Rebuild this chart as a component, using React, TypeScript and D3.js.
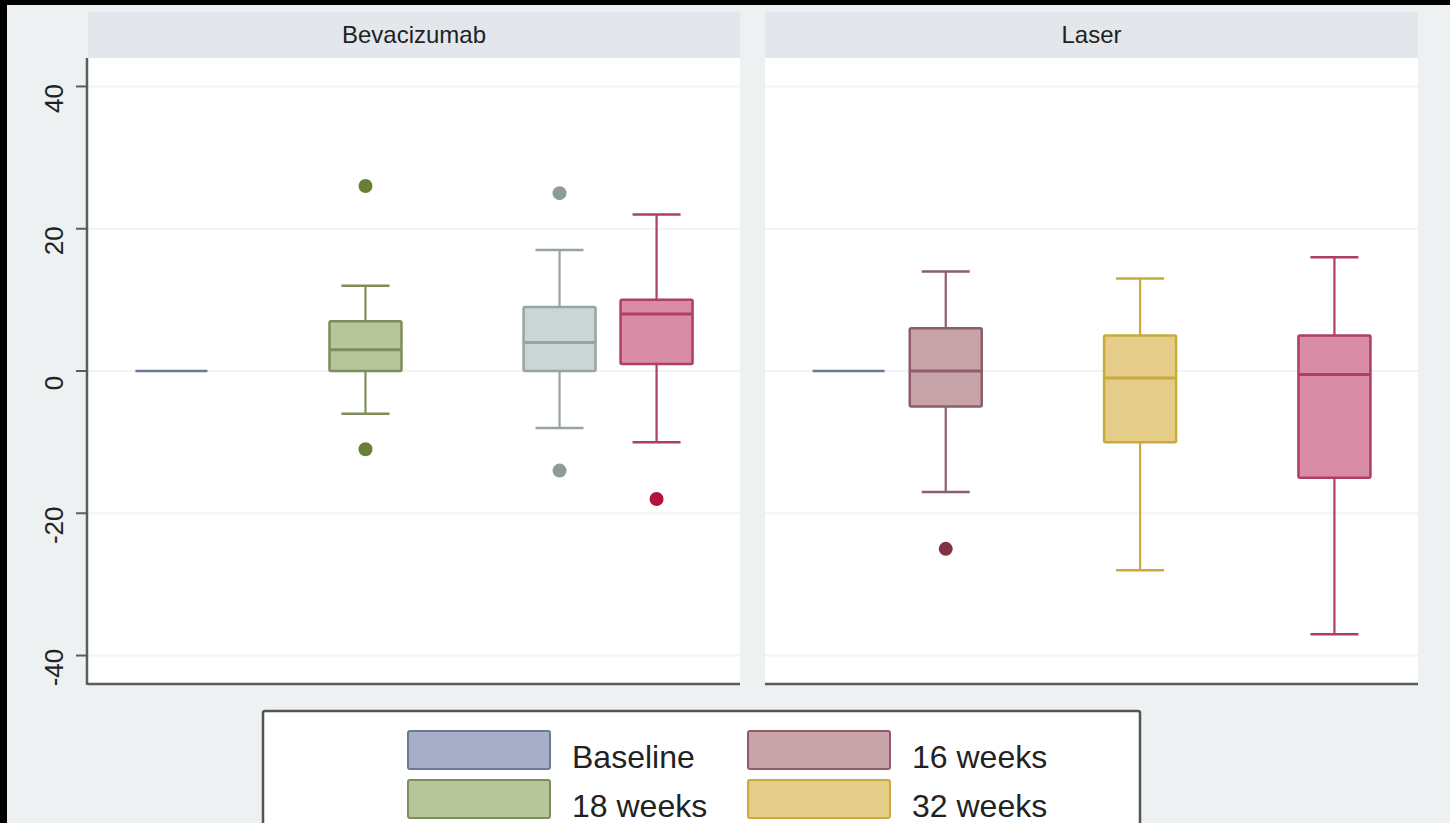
import React from "react";
import * as d3 from "d3";

// ---- data ----
const panels = ["Bevacizumab", "Laser"];
const categories = ["Baseline", "16 weeks", "18 weeks", "32 weeks", "Group 5", "Group 6"];
const legendItems = ["Baseline", "16 weeks", "18 weeks", "32 weeks"];
const yTicks = [40, 20, 0, -20, -40];

// each box: [panel, category, whiskerLow, q1, median, q3, whiskerHigh]
const boxPanel = ["Bevacizumab", "Bevacizumab", "Bevacizumab", "Bevacizumab", "Laser", "Laser", "Laser", "Laser"];
const boxCategory = ["Baseline", "18 weeks", "Group 5", "Group 6", "Baseline", "16 weeks", "32 weeks", "Group 6"];
const boxLow = [0, -6, -8, -10, 0, -17, -28, -37];
const boxQ1 = [0, 0, 0, 1, 0, -5, -10, -15];
const boxMedian = [0, 3, 4, 8, 0, 0, -1, -0.5];
const boxQ3 = [0, 7, 9, 10, 0, 6, 5, 5];
const boxHigh = [0, 12, 17, 22, 0, 14, 13, 16];
const boxOutliers = [[], [26, -11], [25, -14], [-18], [], [-25], [], []];

// styling per category
const fills = ["#a7afc6", "#c7a3aa", "#b7c59b", "#e5cc88", "#cad5d5", "#d98ca5"];
const strokes = ["#6c7898", "#8d5e69", "#7d8d5c", "#c9aa3a", "#98a4a4", "#ad3e64"];
const dots = ["#6c7898", "#7f3444", "#6a7f36", "#c9aa3a", "#8c9c98", "#b3123e"];

export default function App() {
  const W = 1450, H = 823;
  const plotTop = 58, plotBottom = 684;
  const panelX = [[88, 740], [765, 1418]];
  const y = d3.scaleLinear().domain([-44, 44]).range([plotBottom, plotTop]);
  const font = "'Liberation Sans', Arial, Helvetica, sans-serif";
  const boxW = 72, capW = 48;

  return (
    <svg width={W} height={H} style={{ position: "absolute", left: 0, top: 0, display: "block" }}>
      <rect x={0} y={0} width={W} height={H} fill="#eef1f2" />
      <rect x={0} y={0} width={W} height={5} fill="#000" />
      <rect x={0} y={0} width={7} height={H} fill="#000" />
      {panels.map((p, pi) => {
        const [x0, x1] = panelX[pi];
        const x = d3.scalePoint<string>().domain(categories).range([x0, x1]).padding(0.86);
        return (
          <g key={p}>
            <rect x={x0} y={12} width={x1 - x0} height={plotTop - 12} fill="#e3e7ec" />
            <text x={(x0 + x1) / 2} y={43} textAnchor="middle" fontFamily={font} fontSize={24} fill="#222">{p}</text>
            <rect x={x0} y={plotTop} width={x1 - x0} height={plotBottom - plotTop} fill="#ffffff" />
            {yTicks.map((t) => (
              <line key={t} x1={x0} x2={x1} y1={y(t)} y2={y(t)} stroke="#f1f3f4" strokeWidth={2} />
            ))}
            {boxPanel.map((bp, i) => {
              if (bp !== p) return null;
              const ci = categories.indexOf(boxCategory[i]);
              const cx = x(boxCategory[i]) as number;
              const st = strokes[ci];
              if (boxLow[i] === boxHigh[i]) {
                return (
                  <line key={i} x1={cx - boxW / 2} x2={cx + boxW / 2} y1={y(boxMedian[i])} y2={y(boxMedian[i])} stroke={st} strokeWidth={2.5} />
                );
              }
              return (
                <g key={i}>
                  <line x1={cx} x2={cx} y1={y(boxHigh[i])} y2={y(boxQ3[i])} stroke={st} strokeWidth={2.2} />
                  <line x1={cx} x2={cx} y1={y(boxQ1[i])} y2={y(boxLow[i])} stroke={st} strokeWidth={2.2} />
                  <line x1={cx - capW / 2} x2={cx + capW / 2} y1={y(boxHigh[i])} y2={y(boxHigh[i])} stroke={st} strokeWidth={2.5} />
                  <line x1={cx - capW / 2} x2={cx + capW / 2} y1={y(boxLow[i])} y2={y(boxLow[i])} stroke={st} strokeWidth={2.5} />
                  <rect x={cx - boxW / 2} y={y(boxQ3[i])} width={boxW} height={y(boxQ1[i]) - y(boxQ3[i])} fill={fills[ci]} stroke={st} strokeWidth={2.5} rx={1.5} />
                  <line x1={cx - boxW / 2} x2={cx + boxW / 2} y1={y(boxMedian[i])} y2={y(boxMedian[i])} stroke={st} strokeWidth={3} />
                  {boxOutliers[i].map((o, k) => (
                    <circle key={k} cx={cx} cy={y(o)} r={7} fill={dots[ci]} />
                  ))}
                </g>
              );
            })}
            <line x1={x0} x2={x1} y1={plotBottom} y2={plotBottom} stroke="#5a5d60" strokeWidth={2.5} />
          </g>
        );
      })}
      {/* y axis */}
      <line x1={87} x2={87} y1={plotTop} y2={plotBottom + 1} stroke="#5a5d60" strokeWidth={2.5} />
      {yTicks.map((t) => (
        <g key={t}>
          <line x1={76} x2={87} y1={y(t)} y2={y(t)} stroke="#5a5d60" strokeWidth={2} />
          <text transform={`translate(63,${y(t) + 12}) rotate(-90)`} textAnchor="middle" fontFamily={font} fontSize={26} fill="#222">{t}</text>
        </g>
      ))}
      {/* legend */}
      <rect x={263} y={711} width={877} height={140} fill="#ffffff" stroke="#555" strokeWidth={2.5} rx={2} />
      {legendItems.map((name, i) => {
        const ci = categories.indexOf(name);
        const col = i % 2, row = Math.floor(i / 2);
        const sx = 408 + col * 340;
        const sy = 731 + row * 49;
        return (
          <g key={name}>
            <rect x={sx} y={sy} width={142} height={38} fill={fills[ci]} stroke={strokes[ci]} strokeWidth={2} rx={2} />
            <text x={sx + 164} y={sy + 37} fontFamily={font} fontSize={32} fill="#222">{name}</text>
          </g>
        );
      })}
    </svg>
  );
}
